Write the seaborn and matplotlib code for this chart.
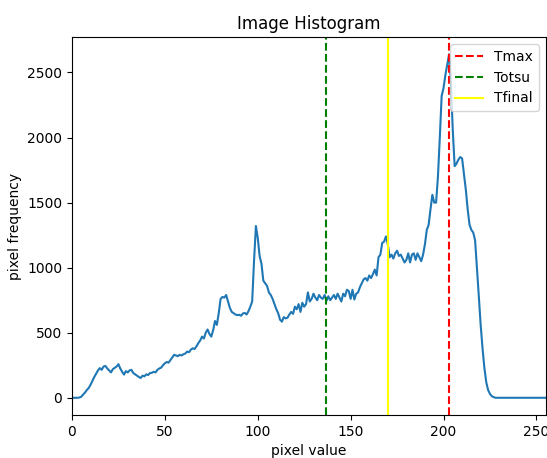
import numpy as np
import pandas as pd
import seaborn as sns
import matplotlib
matplotlib.use('Agg')
import matplotlib.pyplot as plt

# histogram counts for pixel values 0..255
hist_counts = [
    0, 0, 0, 0, 2, 8, 25, 40, 60, 75,                       # 0-9
    100, 130, 160, 185, 210, 228, 215, 240, 245, 225,       # 10-19
    210, 195, 220, 230, 240, 258, 225, 200, 178, 205,       # 20-29
    195, 210, 215, 190, 180, 170, 160, 152, 170, 165,       # 30-39
    180, 175, 190, 192, 200, 195, 215, 225, 232, 250,       # 40-49
    265, 275, 270, 290, 310, 330, 325, 320, 330, 325,       # 50-59
    335, 340, 355, 350, 370, 380, 375, 395, 420, 440,       # 60-69
    470, 455, 500, 525, 490, 470, 520, 590, 560, 650,       # 70-79
    760, 775, 770, 790, 740, 690, 660, 650, 640, 635,       # 80-89
    638, 630, 648, 652, 640, 665, 700, 740, 1050, 1320,     # 90-99
    1230, 1090, 1030, 900, 880, 860, 810, 790, 760, 720,    # 100-109
    680, 650, 600, 585, 620, 610, 615, 640, 660, 645,       # 110-119
    700, 680, 720, 660, 730, 700, 720, 810, 740, 760,       # 120-129
    800, 770, 750, 790, 770, 760, 790, 745, 780, 750,       # 130-139
    770, 790, 760, 800, 770, 740, 800, 780, 830, 820,       # 140-149
    760, 830, 755, 800, 810, 850, 880, 910, 920, 900,       # 150-159
    940, 920, 950, 985, 940, 1080, 1100, 1190, 1200, 1240,  # 160-169
    1180, 1080, 1100, 1070, 1110, 1130, 1090, 1100, 1070, 1040,  # 170-179
    1060, 1110, 1040, 1100, 1110, 1060, 1110, 1080, 1050, 1100,  # 180-189
    1180, 1290, 1330, 1450, 1560, 1500, 1500, 1700, 2000, 2320,  # 190-199
    2380, 2480, 2560, 2640, 2420, 2050, 1780, 1800, 1830, 1850,  # 200-209
    1840, 1720, 1600, 1450, 1330, 1290, 1270, 1210, 1000, 780,   # 210-219
    560, 380, 230, 120, 60, 30, 12, 5, 0, 0,                     # 220-229
    0, 0, 0, 0, 0, 0, 0, 0, 0, 0,                                # 230-239
    0, 0, 0, 0, 0, 0, 0, 0, 0, 0,                                # 240-249
    0, 0, 0, 0, 0, 0,                                            # 250-255
]
pixel_values = list(range(256))

t_max = 203
t_otsu = 137
t_final = 170

df = pd.DataFrame({'pixel': pixel_values, 'count': hist_counts})

fig = plt.figure(figsize=(5.47, 4.58), dpi=100)
ax = fig.add_axes([0.1316, 0.094, 0.866, 0.825])

sns.lineplot(data=df, x='pixel', y='count', ax=ax, color='C0', linewidth=1.5)
ax.axvline(t_max, color='red', linestyle='--', label='Tmax')
ax.axvline(t_otsu, color='green', linestyle='--', label='Totsu')
ax.axvline(t_final, color='yellow', label='Tfinal')

ax.set_xlim([0, 255])
ax.set_title('Image Histogram')
ax.set_xlabel('pixel value')
ax.set_ylabel('pixel frequency')
ax.legend(loc='upper right')

fig.savefig('out.png', dpi=100)
